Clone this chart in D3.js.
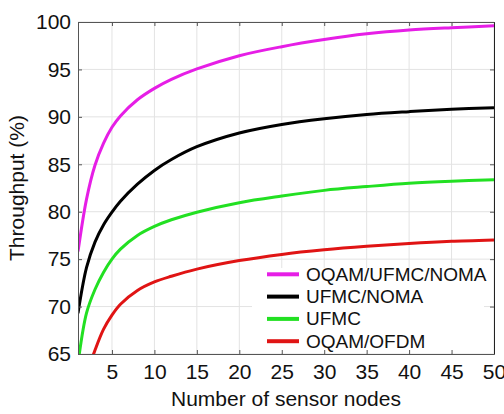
<!DOCTYPE html>
<html>
<head>
<meta charset="utf-8">
<script src="https://cdn.jsdelivr.net/npm/d3@7"></script>
<style>
  html, body { margin: 0; padding: 0; background: #fff; }
  svg { display: block; font-family: "Liberation Sans", Arial, Helvetica, sans-serif; }
</style>
</head>
<body>
<svg id="chart" width="504" height="414"></svg>
<script>
// Number of sensor nodes sampled along the x axis
const nodes = [1, 2, 3, 4, 5, 6, 8, 10, 12, 15, 20, 25, 30, 35, 40, 45, 50];

// Throughput (%) per scheme
const oqamUfmcNoma = [75.8, 81.3, 84.9, 87.2, 88.9, 90.1, 91.8, 93.0, 93.95, 95.05, 96.45, 97.4, 98.15, 98.75, 99.15, 99.4, 99.6];
const ufmcNoma     = [69.3, 74.1, 76.8, 78.6, 79.95, 81.1, 82.9, 84.35, 85.5, 86.85, 88.3, 89.2, 89.8, 90.25, 90.55, 90.8, 90.97];
const ufmc         = [64.0, 69.3, 71.8, 73.6, 75.0, 76.05, 77.5, 78.45, 79.15, 79.95, 80.95, 81.65, 82.25, 82.65, 83.0, 83.22, 83.37];
const oqamOfdm     = [59.5, 62.8, 65.4, 67.6, 69.1, 70.25, 71.7, 72.6, 73.2, 73.95, 74.85, 75.5, 75.98, 76.35, 76.65, 76.88, 77.02];

const seriesNames  = ["OQAM/UFMC/NOMA", "UFMC/NOMA", "UFMC", "OQAM/OFDM"];
const seriesValues = [oqamUfmcNoma, ufmcNoma, ufmc, oqamOfdm];
const seriesColors = ["#e61ee6", "#000000", "#22e022", "#e01414"];

const xTicks = [5, 10, 15, 20, 25, 30, 35, 40, 45, 50];
const yTicks = [65, 70, 75, 80, 85, 90, 95, 100];

const margin = { left: 78, top: 22, right: 10, bottom: 60 };
const plotW = 494 - margin.left, plotH = 354 - margin.top;

const svg = d3.select("#chart");
const g = svg.append("g").attr("transform", `translate(${margin.left},${margin.top})`);

const x = d3.scaleLinear().domain([1, 50]).range([0, plotW]);
const y = d3.scaleLinear().domain([65, 100]).range([plotH, 0]);

// Grid
g.append("g").selectAll("line").data(xTicks).join("line")
  .attr("x1", d => x(d)).attr("x2", d => x(d))
  .attr("y1", 0).attr("y2", plotH)
  .attr("stroke", "#e3e3e3").attr("stroke-width", 1);
g.append("g").selectAll("line").data(yTicks).join("line")
  .attr("x1", 0).attr("x2", plotW)
  .attr("y1", d => y(d)).attr("y2", d => y(d))
  .attr("stroke", "#e3e3e3").attr("stroke-width", 1);

// Curves, clipped to the axes box
svg.append("defs").append("clipPath").attr("id", "plotClip")
  .append("rect").attr("x", 0).attr("y", 0).attr("width", plotW).attr("height", plotH);

const line = d3.line()
  .x((d, i) => x(nodes[i]))
  .y(d => y(d))
  .curve(d3.curveCatmullRom.alpha(0.5));

const curves = g.append("g").attr("clip-path", "url(#plotClip)");
seriesValues.forEach((vals, i) => {
  curves.append("path")
    .datum(vals)
    .attr("d", line)
    .attr("fill", "none")
    .attr("stroke", seriesColors[i])
    .attr("stroke-width", 3)
    .attr("stroke-linejoin", "round");
});

// Legend (white panel without border)
const legend = g.append("g").attr("transform", `translate(${252 - margin.left},${268 - margin.top})`);
legend.append("rect").attr("x", 0).attr("y", 0).attr("width", 232).attr("height", 354 - 268 - 1).attr("fill", "#fff");
seriesNames.forEach((name, i) => {
  const cy = 6.3 + i * 22.3;
  legend.append("line")
    .attr("x1", 15).attr("x2", 47).attr("y1", cy).attr("y2", cy)
    .attr("stroke", seriesColors[i]).attr("stroke-width", 4);
  legend.append("text")
    .attr("x", 54).attr("y", cy)
    .attr("dominant-baseline", "central")
    .attr("font-size", 19).attr("fill", "#111")
    .text(name);
});

// Axes: ticks pointing inward, box on all sides
const axisColor = "#555";
const xAxis = g.append("g").attr("transform", `translate(0,${plotH})`)
  .call(d3.axisBottom(x).tickValues(xTicks).tickSizeInner(-4).tickSizeOuter(0).tickPadding(10));
const xAxisTop = g.append("g")
  .call(d3.axisTop(x).tickValues(xTicks).tickSizeInner(-4).tickSizeOuter(0).tickFormat(""));
const yAxis = g.append("g")
  .call(d3.axisLeft(y).tickValues(yTicks).tickSizeInner(-4).tickSizeOuter(0).tickPadding(7));
const yAxisRight = g.append("g").attr("transform", `translate(${plotW},0)`)
  .call(d3.axisRight(y).tickValues(yTicks).tickSizeInner(-4).tickSizeOuter(0).tickFormat(""));

[xAxis, xAxisTop, yAxis, yAxisRight].forEach(a => {
  a.select(".domain").attr("stroke", axisColor);
  a.selectAll(".tick line").attr("stroke", axisColor);
  a.selectAll("text").attr("font-size", 21).attr("fill", "#111")
    .attr("font-family", "\"Liberation Sans\", Arial, sans-serif");
});
yAxisRight.select(".domain").attr("stroke", "#222");

// Axis titles
svg.append("text")
  .attr("x", margin.left + plotW / 2).attr("y", 406)
  .attr("text-anchor", "middle").attr("font-size", 21).attr("fill", "#111")
  .text("Number of sensor nodes");
svg.append("text")
  .attr("transform", `translate(24,${margin.top + plotH / 2}) rotate(-90)`)
  .attr("text-anchor", "middle").attr("font-size", 21).attr("fill", "#111")
  .text("Throughput (%)");
</script>
</body>
</html>
